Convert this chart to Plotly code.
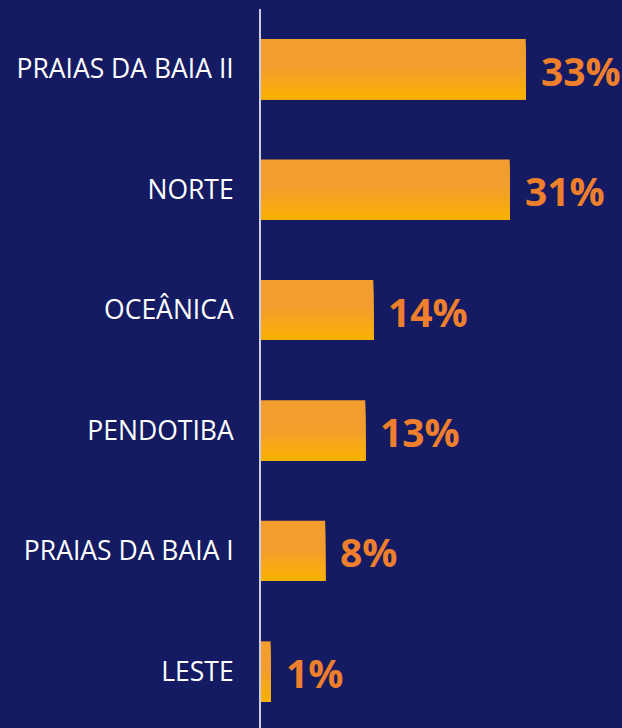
import plotly.graph_objects as go

categories = ["PRAIAS DA BAIA II", "NORTE", "OCEÂNICA", "PENDOTIBA", "PRAIAS DA BAIA I", "LESTE"]
values = [33, 31, 14, 13, 8, 1.2]
value_labels = ["33%", "31%", "14%", "13%", "8%", "1%"]

BG = "#141B62"
mid_rgb = (243, 157, 46)
bot_rgb = (249, 176, 6)

N = 12
bar_w = 0.5
fig = go.Figure()
for i in range(N):
    t = i / (N - 1)
    if t < 0.45:
        c = mid_rgb
    else:
        u = (t - 0.45) / 0.55
        c = tuple(round(mid_rgb[k] + (bot_rgb[k] - mid_rgb[k]) * u) for k in range(3))
    start = -bar_w / 2 + i * bar_w / N
    fig.add_trace(go.Bar(
        x=values, y=categories, orientation="h",
        width=bar_w / 2 - start, offset=start,
        marker=dict(color="rgb(%d,%d,%d)" % c, line=dict(width=0)),
        hoverinfo="skip", showlegend=False,
    ))

for v, c, lab in zip(values, categories, value_labels):
    fig.add_annotation(x=v, y=c, text=lab, showarrow=False, xanchor="left",
                       yanchor="middle", xshift=13, yshift=-1,
                       font=dict(family="Open Sans", size=39, color="#EE7F2D", weight="bold"))

fig.update_layout(
    width=622, height=728,
    paper_bgcolor=BG, plot_bgcolor=BG,
    margin=dict(l=261, r=0, t=9, b=0),
    barmode="overlay",
    showlegend=False,
    xaxis=dict(range=[0, 45], visible=False, showgrid=False, zeroline=False),
    yaxis=dict(
        type="category", categoryorder="array", categoryarray=categories,
        range=[5.469, -0.498], autorange=False,
        showline=True, linecolor="#C9CCDD", linewidth=2,
        showgrid=False, zeroline=False, ticks="",
        ticklabelstandoff=20,
        tickfont=dict(family="Open Sans", size=26.5, color="#FFFFFF"),
    ),
)

fig.write_html("out.html", config={"displayModeBar": False},
               post_script="document.body.style.margin='0';document.body.style.background='%s';" % BG)
